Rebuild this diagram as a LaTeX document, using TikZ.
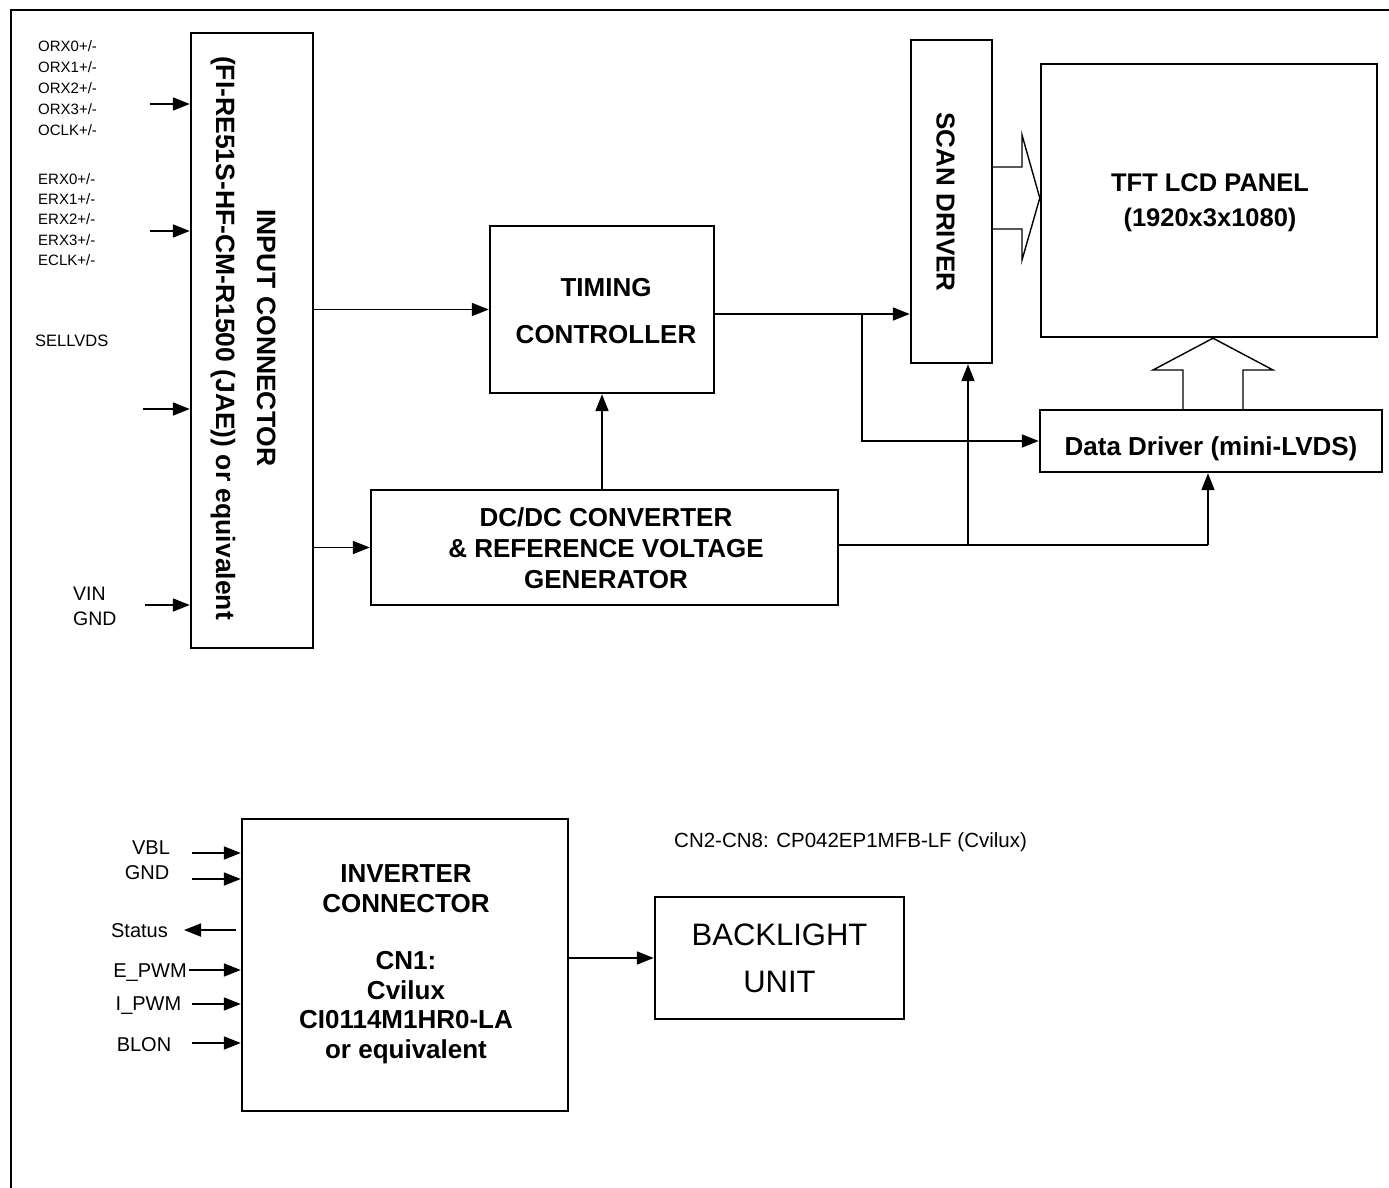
\documentclass[tikz,border=0pt]{standalone}
\usepackage{fontspec}
\setmainfont{Liberation Sans}
\usetikzlibrary{arrows.meta}
\begin{document}
\begin{tikzpicture}[x=1pt,y=-1pt,
  box/.style={draw, line width=2.4pt, inner sep=0pt},
  ln/.style={line width=1.8pt},
  arr/.style={line width=1.8pt, -{Triangle[length=17pt,width=13pt]}},
  hollow/.style={line width=1.4pt, fill=white, line join=miter},
  bt/.style={font=\fontsize{26}{31}\selectfont\bfseries, align=center, inner sep=0pt},
  sl/.style={font=\fontsize{15}{18}\selectfont, inner sep=0pt, anchor=west, text height=10.7pt, text depth=0pt},
  ml/.style={font=\fontsize{20}{24}\selectfont, inner sep=0pt, text height=14.3pt, text depth=0pt},
]
\useasboundingbox (0,0) rectangle (1389,1188);
% frame
\draw[line width=2pt] (11,1190) -- (11,10) -- (1392,10);

% blocks
\node[box, minimum width=122, minimum height=615] (inp) at (252,340.5) {};
\node[box, minimum width=224, minimum height=167] (tc) at (602,309.5) {};
\node[box, minimum width=467, minimum height=115] (dc) at (604.5,547.5) {};
\node[box, minimum width=81, minimum height=323] (scan) at (951.5,201.5) {};
\node[box, minimum width=336, minimum height=273] (panel) at (1209,200.5) {};
\node[box, minimum width=342, minimum height=62] (dd) at (1211,441) {};
\node[box, minimum width=326, minimum height=292] (inv) at (405,965) {};
\node[box, minimum width=249, minimum height=122] (bl) at (779.5,958) {};

% block texts
\node[bt, rotate=-90, font=\fontsize{26.5}{41}\selectfont\bfseries] (inptxt) at (243,338)
  {INPUT CONNECTOR\\(FI-RE51S-HF-CM-R1500 (JAE)) or equivalent};
\node[bt, font=\fontsize{26}{47}\selectfont\bfseries, anchor=north] (tctxt) at (606,277.7) {TIMING\\CONTROLLER};
\node[bt, anchor=north] (dctxt) at (606,507) {DC/DC CONVERTER\\\& REFERENCE VOLTAGE\\GENERATOR};
\node[bt, rotate=-90, text height=18.6pt, text depth=0pt] (scantxt) at (946,202) {SCAN DRIVER};
\node[bt, font=\fontsize{25.5}{35}\selectfont\bfseries, anchor=north] (paneltxt) at (1210,173) {TFT LCD PANEL\\(1920x3x1080)};
\node[bt, anchor=base] (ddtxt) at (1211,455) {Data Driver (mini-LVDS)};
\node[bt, font=\fontsize{26}{29.5}\selectfont\bfseries, anchor=north] (invtxt) at (406,864.7)
  {INVERTER\\CONNECTOR\\[28pt]CN1:\\Cvilux\\CI0114M1HR0-LA\\or equivalent};
\node[align=center, inner sep=0pt, font=\fontsize{31}{47}\selectfont, anchor=north] (bltxt) at (779.5,924) {BACKLIGHT\\UNIT};

% input labels
\foreach \t [count=\i] in {ORX0+/-,ORX1+/-,ORX2+/-,ORX3+/-,OCLK+/-}
  \node[sl] (orx\i) at (38,{46+21*(\i-1)}) {\t};
\foreach \t [count=\i] in {ERX0+/-,ERX1+/-,ERX2+/-,ERX3+/-,ECLK+/-}
  \node[sl] (erx\i) at (38,{179+20.3*(\i-1)}) {\t};
\node[sl, font=\fontsize{16.5}{20}\selectfont, text height=11.8pt] (sel) at (35,341) {SELLVDS};
\node[sl, font=\fontsize{19.5}{24}\selectfont, text height=14pt] (vin) at (73,593) {VIN};
\node[sl, font=\fontsize{19.5}{24}\selectfont, text height=14pt] (gnd) at (73,618) {GND};

% input arrows
\coordinate (a1) at (150,104);
\coordinate (a2) at (150,231);
\coordinate (a3) at (143,409);
\coordinate (a4) at (145,605);
\foreach \c in {a1,a2,a3,a4} \draw[arr] (\c) -- (\c -| inp.west);

% connections
\draw[arr] (inp.east |- tc.west) -- (tc.west);
\draw[arr] (inp.east |- dc.west) -- (dc.west);
\draw[arr] (tc.south |- dc.north) -- (tc.south);
\coordinate (j1) at (862,314);
\draw[arr] (tc.east |- j1) -- (scan.west |- j1);
\draw[arr] (j1) |- (dd.west);
\coordinate (j2) at (968,545);
\coordinate (j3) at (1208,545);
\draw[ln] (dc.east |- j2) -- (j3);
\draw[arr] (j2) -- (j2 |- scan.south);
\draw[arr] (j3) -- (j3 |- dd.south);

% hollow arrows
\draw[hollow] (scan.east |- 0,167) -- (1022,167) -- (1022,135) -- (panel.west |- 0,198) -- (1022,260) -- (1022,229) -- (scan.east |- 0,229);
\draw[hollow] (1183,0 |- dd.north) -- (1183,370) -- (1153,370) -- (1213,0 |- panel.south) -- (1273,370) -- (1243,370) -- (1243,0 |- dd.north);

% bottom labels
\node[ml] (vbl) at (151,847) {VBL};
\node[ml] (gnd2) at (147,872) {GND};
\node[ml] (status) at (139.5,930) {Status};
\node[ml] (epwm) at (150,970) {E\_PWM};
\node[ml] (ipwm) at (148.5,1003) {I\_PWM};
\node[ml] (blon) at (144,1044) {BLON};
\node[ml, anchor=west, font=\fontsize{20.5}{24}\selectfont] (cn2) at (674,840) {CN2-CN8: CP042EP1MFB-LF (Cvilux)};

\coordinate (b1) at (192,853);
\coordinate (b2) at (192,879);
\coordinate (b4) at (189,970);
\coordinate (b5) at (192,1004);
\coordinate (b6) at (192,1043);
\foreach \c in {b1,b2,b4,b5,b6} \draw[arr] (\c) -- (\c -| inv.west);
\coordinate (s1) at (236,930);
\coordinate (s2) at (184,930);
\draw[arr] (s1) -- (s2);

\draw[arr] (inv.east |- bl.west) -- (bl.west);
\end{tikzpicture}
\end{document}
